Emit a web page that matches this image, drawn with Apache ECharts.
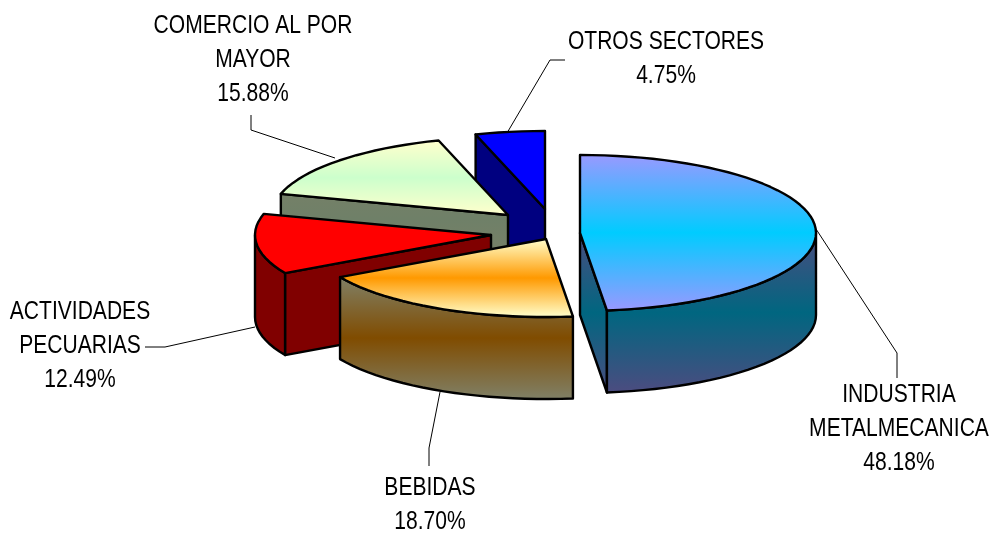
<!DOCTYPE html>
<html>
<head>
<meta charset="utf-8">
<style>html,body{margin:0;padding:0;background:#fff}#c{width:997px;height:533px}</style>
<script src="https://cdn.jsdelivr.net/npm/echarts@6/dist/echarts.min.js"></script>
</head>
<body>
<div id="c"></div>
<script>
// ---- data (clockwise from 12 o'clock) ----
const categories = ['INDUSTRIA\nMETALMECANICA', 'BEBIDAS', 'ACTIVIDADES\nPECUARIAS', 'COMERCIO AL POR\nMAYOR', 'OTROS SECTORES'];
const shares = [48.18, 18.70, 12.49, 15.88, 4.75];

// ---- layout and style (apex of each exploded slice, leader lines, label anchors) ----
const RX = 236, RY = 78, DEPTH = 82;
const apexes = [[580, 233], [546, 239], [491, 235], [508, 215], [545, 209]];
const leaders = [
  [[816, 229], [897, 353], [897, 378]],
  [[440, 392], [429, 448], [429, 466]],
  [[255, 327], [165, 347], [145, 347]],
  [[335, 158], [251, 130], [251, 115]],
  [[507, 133], [550, 60], [565, 60]]
];
const labelAnchors = [[899, 378], [430, 471], [80, 295], [253, 9], [666, 25]];
const drawOrder = [4, 3, 2, 1, 0]; // higher is painted later
const topStops = [
  ['#9999ff', '#00ccff'], ['#ffffcc', '#ff9900'], ['#ff0000', '#ff0000'], ['#ffffcc', '#ccffcc'], ['#0000ff', '#0000ff']
];
const sideStops = [
  ['#4c4c80', '#006680'], ['#808066', '#804c00'], ['#800000', '#800000'], ['#808066', '#6f8068'], ['#000080', '#000080']
];

const chart = echarts.init(document.getElementById('c'), null, {renderer: 'canvas'});
const total = shares.reduce((a, b) => a + b, 0);
const startAngles = [];
shares.reduce((acc, v, i) => { startAngles[i] = acc; return acc + v / total * 360; }, 0);

function pt(c, deg, dy) {
  const r = deg * Math.PI / 180;
  return [c[0] + RX * Math.sin(r), c[1] - RY * Math.cos(r) + (dy || 0)];
}
function arc(c, a0, a1, dy) {
  const n = Math.max(2, Math.ceil((a1 - a0) / 3));
  const out = [];
  for (let i = 0; i <= n; i++) out.push(pt(c, a0 + (a1 - a0) * i / n, dy));
  return out;
}
function grad(y0, y1, pair) {
  return new echarts.graphic.LinearGradient(0, y0, 0, y1, [
    {offset: 0, color: pair[0]}, {offset: 0.5, color: pair[1]}, {offset: 1, color: pair[0]}
  ], true);
}

function renderItem(params, api) {
  const i = params.dataIndex;
  const v = api.value(0);
  const a0 = startAngles[i], a1 = a0 + v / total * 360;
  const c = apexes[i];
  const top = arc(c, a0, a1, 0);
  const ys = top.map(p => p[1]).concat([c[1]]);
  const yMin = Math.min.apply(null, ys), yMax = Math.max.apply(null, ys);
  const topFill = grad(yMin, yMax, topStops[i]);
  const f0 = Math.max(a0, 90), f1 = Math.min(a1, 270);
  const hasFront = f1 > f0;
  const wallTop = hasFront ? Math.min.apply(null, arc(c, f0, f1, 0).map(p => p[1])) : yMin;
  const sideFill = grad(wallTop, yMax + DEPTH, sideStops[i]);
  const base = (drawOrder[i] + 1) * 10;
  const stroke = {stroke: '#000', lineWidth: 2.4, lineJoin: 'round'};
  const children = [];
  // only the cut faces turned towards the viewer are drawn
  const visibleCuts = [];
  if (a0 > 180 && a0 < 360) visibleCuts.push(a0);
  if (a1 > 0 && a1 < 180) visibleCuts.push(a1);
  visibleCuts.forEach(a => {
    const e = pt(c, a);
    children.push({
      type: 'polygon', z2: base,
      shape: {points: [c, e, [e[0], e[1] + DEPTH], [c[0], c[1] + DEPTH]]},
      style: Object.assign({fill: sideFill}, stroke)
    });
  });
  if (hasFront) {
    const upper = arc(c, f0, f1, 0);
    const lower = arc(c, f0, f1, DEPTH).reverse();
    children.push({
      type: 'polygon', z2: base + 1,
      shape: {points: upper.concat(lower)},
      style: Object.assign({fill: sideFill}, stroke)
    });
  }
  children.push({
    type: 'polygon', z2: base + 2,
    shape: {points: [c].concat(top)},
    style: Object.assign({fill: topFill}, stroke)
  });
  children.push({
    type: 'polyline', z2: 100,
    shape: {points: leaders[i]},
    style: {fill: null, stroke: '#000', lineWidth: 1}
  });
  children.push({
    type: 'text', z2: 101,
    x: labelAnchors[i][0], y: labelAnchors[i][1], scaleX: 0.81,
    style: {
      text: categories[i] + '\n' + v.toFixed(2) + '%',
      fontFamily: '"Liberation Sans", Arial, sans-serif', fontSize: 26,
      lineHeight: 34, fill: '#000', align: 'center', verticalAlign: 'top'
    }
  });
  return {type: 'group', children};
}

chart.setOption({
  animation: false,
  backgroundColor: '#ffffff',
  series: [{
    type: 'custom',
    coordinateSystem: 'none',
    silent: true,
    renderItem,
    data: shares.map((v, i) => ({name: categories[i], value: [v]}))
  }]
});
</script>
</body>
</html>
